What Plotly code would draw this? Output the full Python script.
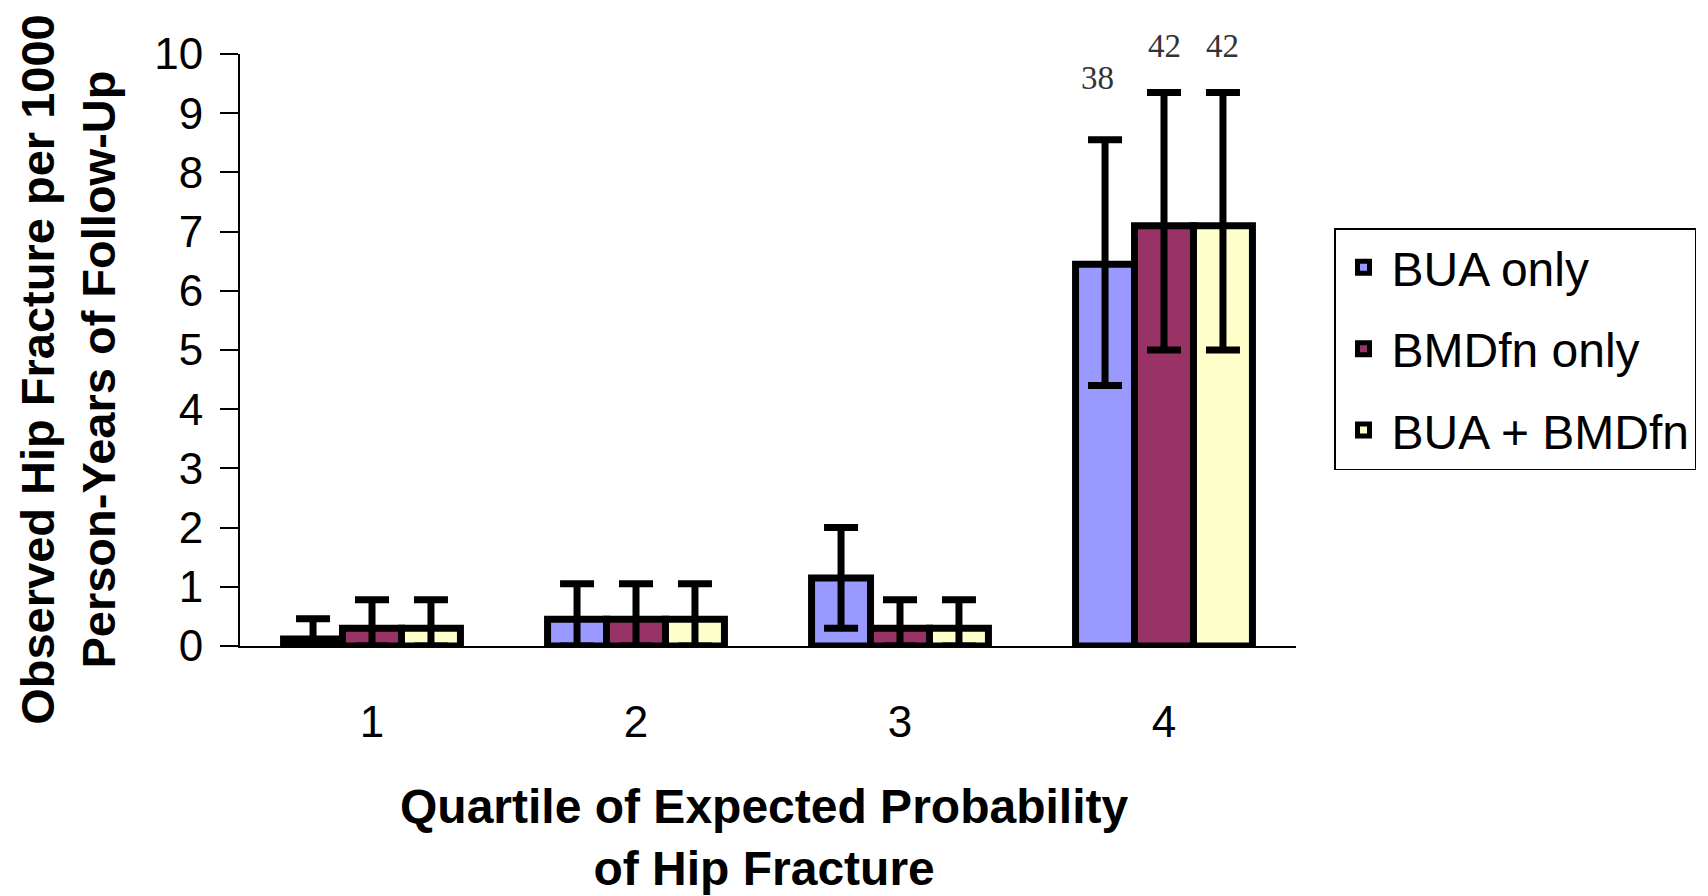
import plotly.graph_objects as go

categories = ["1", "2", "3", "4"]
series_names = ["BUA only", "BMDfn only", "BUA + BMDfn"]
colors = ["#9999FF", "#993366", "#FFFFCC"]

bua_values = [0.12, 0.45, 1.15, 6.45]
bua_upper = [0.46, 1.05, 2.0, 8.55]
bua_lower = [0.0, 0.0, 0.3, 4.4]

bmd_values = [0.3, 0.45, 0.3, 7.1]
bmd_upper = [0.78, 1.05, 0.78, 9.35]
bmd_lower = [0.0, 0.0, 0.0, 5.0]

both_values = [0.3, 0.45, 0.3, 7.1]
both_upper = [0.78, 1.05, 0.78, 9.35]
both_lower = [0.0, 0.0, 0.0, 5.0]

count_labels = ["38", "42", "42"]

y_ticks = list(range(0, 11))

series = [
    (bua_values, bua_upper, bua_lower),
    (bmd_values, bmd_upper, bmd_lower),
    (both_values, both_upper, both_lower),
]

fig = go.Figure()
for i, (vals, up, lo) in enumerate(series):
    fig.add_trace(go.Bar(
        x=categories,
        y=vals,
        name=series_names[i],
        legendgroup=series_names[i],
        marker=dict(color=colors[i], line=dict(color="black", width=7)),
        error_y=dict(
            type="data",
            symmetric=False,
            array=[u - v for u, v in zip(up, vals)],
            arrayminus=[v - l for v, l in zip(vals, lo)],
            color="black",
            thickness=7,
            width=17,
        ),
    ))

bargap = 0.33
bar_w = (1 - bargap) / 3
label_shifts = [62, 46, 46]
annotations = []
for j, t in enumerate(count_labels):
    annotations.append(dict(
        x=3 + (j - 1) * bar_w - (0.03 if j == 0 else 0),
        y=series[j][1][3], xref="x", yref="y",
        yshift=label_shifts[j],
        text=t, showarrow=False,
        font=dict(family="Liberation Serif, Times New Roman, serif", size=33, color="#333333"),
        xanchor="center", yanchor="middle",
    ))

annotations.append(dict(
    x=-0.163, y=0.468, xref="paper", yref="paper",
    text="<b>Observed Hip Fracture per 1000</b><br><b>Person-Years of Follow-Up</b>",
    textangle=-90, showarrow=False,
    font=dict(family="Liberation Sans, Arial, sans-serif", size=47, color="black"),
    xanchor="center", yanchor="middle",
))
annotations.append(dict(
    x=0.496, y=-0.323, xref="paper", yref="paper",
    text="<b>Quartile of Expected Probability</b><br><b>of Hip Fracture</b>",
    showarrow=False,
    font=dict(family="Liberation Sans, Arial, sans-serif", size=48, color="black"),
    xanchor="center", yanchor="middle",
))

fig.update_layout(
    width=1708, height=896,
    margin=dict(l=240, r=412, t=54, b=250),
    paper_bgcolor="white", plot_bgcolor="white",
    barmode="group", bargap=bargap, bargroupgap=0,
    showlegend=True,
    legend=dict(
        x=1.036, y=0.706, xanchor="left", yanchor="top",
        bordercolor="black", borderwidth=1.5,
        font=dict(family="Liberation Sans, Arial, sans-serif", size=48, color="black"),
        tracegroupgap=16,
        itemwidth=46,
        traceorder="grouped",
    ),
    font=dict(family="Liberation Sans, Arial, sans-serif", color="black"),
    annotations=annotations,
)
fig.update_xaxes(
    type="category", categoryorder="array", categoryarray=categories,
    showline=True, linecolor="black", linewidth=2,
    ticks="", showgrid=False, zeroline=False,
    tickfont=dict(size=44, family="Liberation Sans, Arial, sans-serif", color="black"),
    ticklabelstandoff=36,
)
fig.update_yaxes(
    range=[0, 10], tickvals=y_ticks,
    showline=True, linecolor="black", linewidth=2,
    ticks="outside", ticklen=18, tickwidth=2, tickcolor="black",
    showgrid=False, zeroline=False,
    tickfont=dict(size=44, family="Liberation Sans, Arial, sans-serif", color="black"),
    ticklabelstandoff=8,
)

fig.write_html("out.html")
